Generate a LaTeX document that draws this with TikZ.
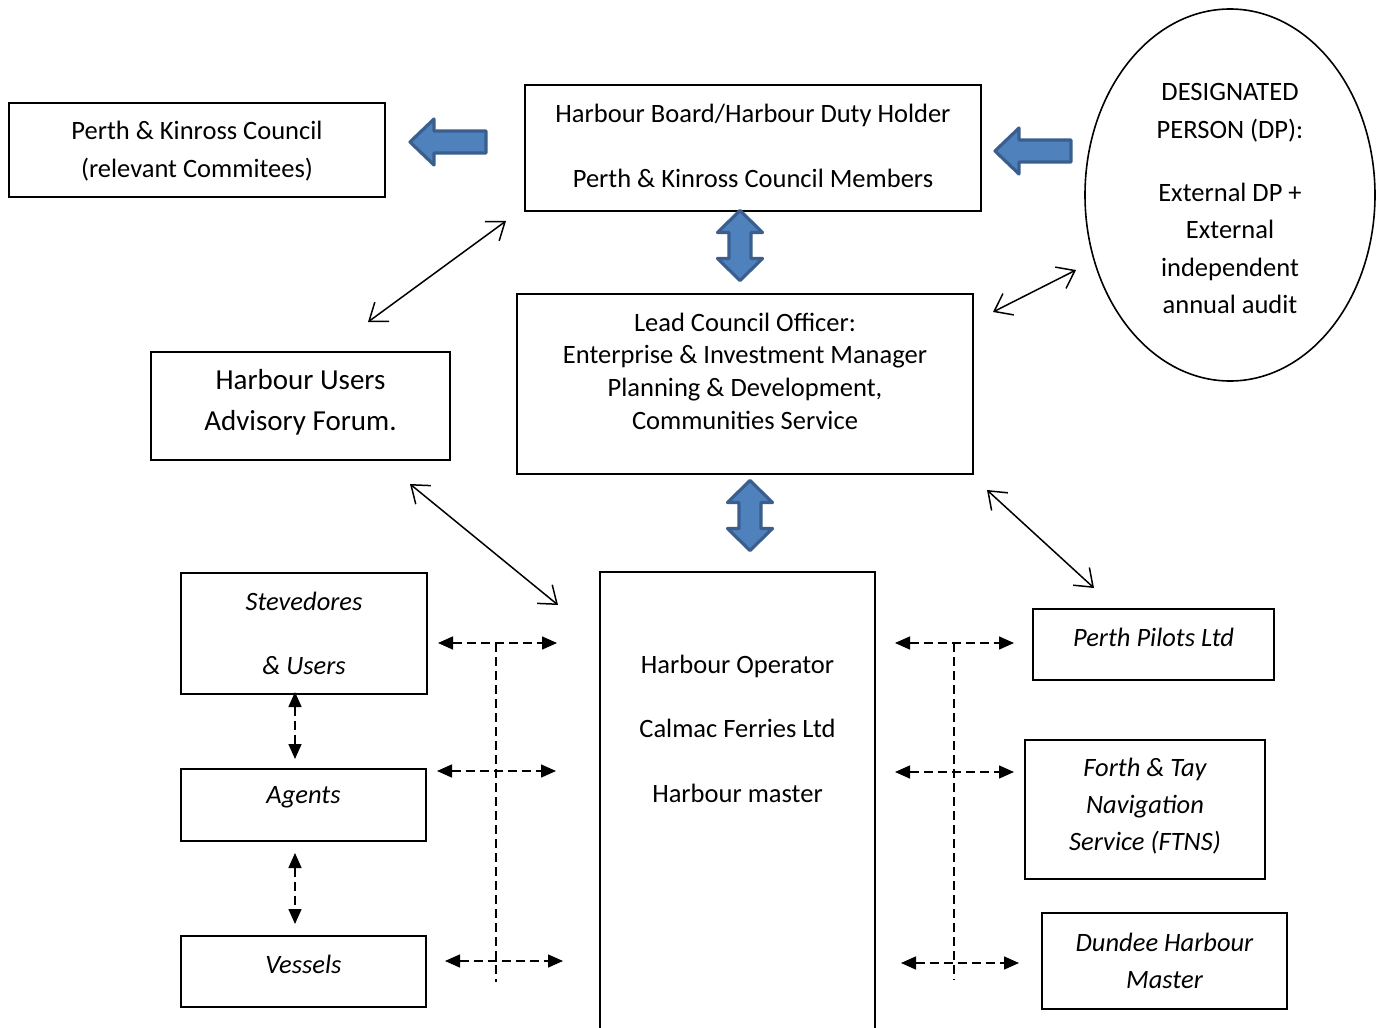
\documentclass[tikz,border=0pt]{standalone}
\usepackage{fontspec}
\setmainfont{Carlito}
\usetikzlibrary{arrows.meta,shapes.geometric}
\definecolor{bafill}{HTML}{4F81BD}
\definecolor{badraw}{HTML}{3A5F8E}
\begin{document}
\begin{tikzpicture}[x=0.5pt,y=-0.5pt,
  box/.style={draw=black,line width=1pt,rectangle,inner sep=0pt,outer sep=0pt},
  thinbox/.style={box,line width=0.6pt},
  txt/.style={align=center,inner sep=0pt,font=\fontsize{13.25}{16.5}\selectfont},
  itxt/.style={txt,font=\fontsize{13.25}{18.5}\selectfont\itshape},
  blockarrow/.style={fill=bafill,draw=badraw,line width=1.6pt,line join=round},
  link/.style={line width=0.75pt,{Straight Barb[length=8pt,width=12pt]}-{Straight Barb[length=8pt,width=12pt]}},
  dlink/.style={line width=0.75pt,dash pattern=on 4.5pt off 2.5pt,{Triangle[length=7.5pt,width=6.5pt]}-{Triangle[length=7.5pt,width=6.5pt]}},
  dline/.style={line width=0.75pt,dash pattern=on 4.5pt off 2.5pt},
  larrow/.pic={\draw[blockarrow] (0,0) -- (24,-23) -- (24,-11) -- (76,-11) -- (76,11) -- (24,11) -- (24,23) -- cycle;},
  vdarrow/.pic={\draw[blockarrow] (0,-35) -- (22.5,-13) -- (11,-13) -- (11,13) -- (22.5,13) -- (0,35) -- (-22.5,13) -- (-11,13) -- (-11,-13) -- (-22.5,-13) -- cycle;}
]
\useasboundingbox[fill=white] (0,0) rectangle (1383,1028);

% boxes
\node[box,line width=1.4pt,minimum width=188pt,minimum height=47pt] (pkc) at (197,150) {};
\node[box,minimum width=228pt,minimum height=63pt] (hb) at (753,148) {};
\node[draw=black,line width=0.8pt,ellipse,inner sep=0pt,minimum width=145pt,minimum height=186pt] (dp) at (1230,195) {};
\node[box,minimum width=228pt,minimum height=90pt] (lco) at (745,384) {};
\node[thinbox,minimum width=149.5pt,minimum height=54pt] (huaf) at (300.5,406) {};
\node[box,minimum width=137.5pt,minimum height=234pt] (ho) at (737.5,806) {};
\node[box,minimum width=123pt,minimum height=60.5pt] (stev) at (304,633.5) {};
\node[box,minimum width=122.5pt,minimum height=36pt] (agents) at (303.5,805) {};
\node[box,minimum width=122.5pt,minimum height=35.5pt] (vessels) at (303.5,971.5) {};
\node[box,minimum width=120.5pt,minimum height=35.5pt] (pilots) at (1153.5,644.5) {};
\node[box,minimum width=120pt,minimum height=69.5pt] (ftns) at (1145,809.5) {};
\node[box,minimum width=122.5pt,minimum height=48pt] (dundee) at (1164.5,961) {};

% texts
\node[txt,font=\fontsize{13.25}{19}\selectfont] (pkct) at (197,151) {Perth \& Kinross Council\\(relevant Commitees)};
\node[txt] (hbt) at (753,145.5) {Harbour Board/Harbour Duty Holder\\[16pt]Perth \& Kinross Council Members};
\node[txt,font=\fontsize{13.25}{18.75}\selectfont] (dpt) at (1230,198.5) {DESIGNATED\\PERSON (DP):\\[12.75pt]External DP +\\External\\independent\\annual audit};
\node[txt,font=\fontsize{13.25}{16.35}\selectfont] (lcot) at (745,371) {Lead Council Officer:\\Enterprise \& Investment Manager\\Planning \& Development,\\Communities Service};
\node[txt,font=\fontsize{14.5}{20.5}\selectfont] (huaft) at (300.5,402.5) {Harbour Users\\Advisory Forum.};
\node[txt] (hot) at (737.5,728.5) {Harbour Operator\\[15.75pt]Calmac Ferries Ltd\\[15.75pt]Harbour master};
\node[itxt] (stevt) at (304,633) {Stevedores\\[13.5pt]\& Users};
\node[itxt] (agentst) at (303.5,797) {Agents};
\node[itxt] (vesselst) at (303.5,964) {Vessels};
\node[itxt] (pilotst) at (1153.5,637) {Perth Pilots Ltd};
\node[itxt] (ftnst) at (1145,806) {Forth \& Tay\\Navigation\\Service (FTNS)};
\node[itxt] (dundeet) at (1164.5,960.5) {Dundee Harbour\\Master};

% block arrows
\pic at (410,142) {larrow};
\pic at (995,151) {larrow};
\pic at (740,245.5) {vdarrow};
\pic at (750,515.5) {vdarrow};

% free ends of thin connectors
\coordinate (a1s) at (368,322); \coordinate (a1e) at (506,221);
\coordinate (a2s) at (993,312); \coordinate (a2e) at (1076,270);
\coordinate (a3s) at (410,484); \coordinate (a3e) at (558,605);
\coordinate (a4s) at (987,490); \coordinate (a4e) at (1094,588);
\draw[link] (a1s) -- (a1e);
\draw[link] (a2s) -- (a2e);
\draw[link] (a3s) -- (a3e);
\draw[link] (a4s) -- (a4e);

% dashed connectors left
\coordinate (l1s) at (438,643); \coordinate (l1e) at (557,643);
\coordinate (l2s) at (437,771); \coordinate (l2e) at (556,771);
\coordinate (l3s) at (445,961); \coordinate (l3e) at (563,961);
\coordinate (lvt) at (496,643); \coordinate (lvb) at (496,982);
\draw[dlink] (l1s) -- (l1e);
\draw[dlink] (l2s) -- (l2e);
\draw[dlink] (l3s) -- (l3e);
\draw[dline] (lvt) -- (lvb);

% dashed connectors right
\coordinate (r1s) at (895,643); \coordinate (r1e) at (1014,643);
\coordinate (r2s) at (895,772); \coordinate (r2e) at (1014,772);
\coordinate (r3s) at (901,963); \coordinate (r3e) at (1019,963);
\coordinate (rvt) at (954,643); \coordinate (rvb) at (954,980);
\draw[dlink] (r1s) -- (r1e);
\draw[dlink] (r2s) -- (r2e);
\draw[dlink] (r3s) -- (r3e);
\draw[dline] (rvt) -- (rvb);

% vertical dashed between left boxes
\coordinate (v1s) at (295,692); \coordinate (v1e) at (295,759);
\coordinate (v2s) at (295,853); \coordinate (v2e) at (295,924);
\draw[dlink] (v1s) -- (v1e);
\draw[dlink] (v2s) -- (v2e);
\end{tikzpicture}
\end{document}
